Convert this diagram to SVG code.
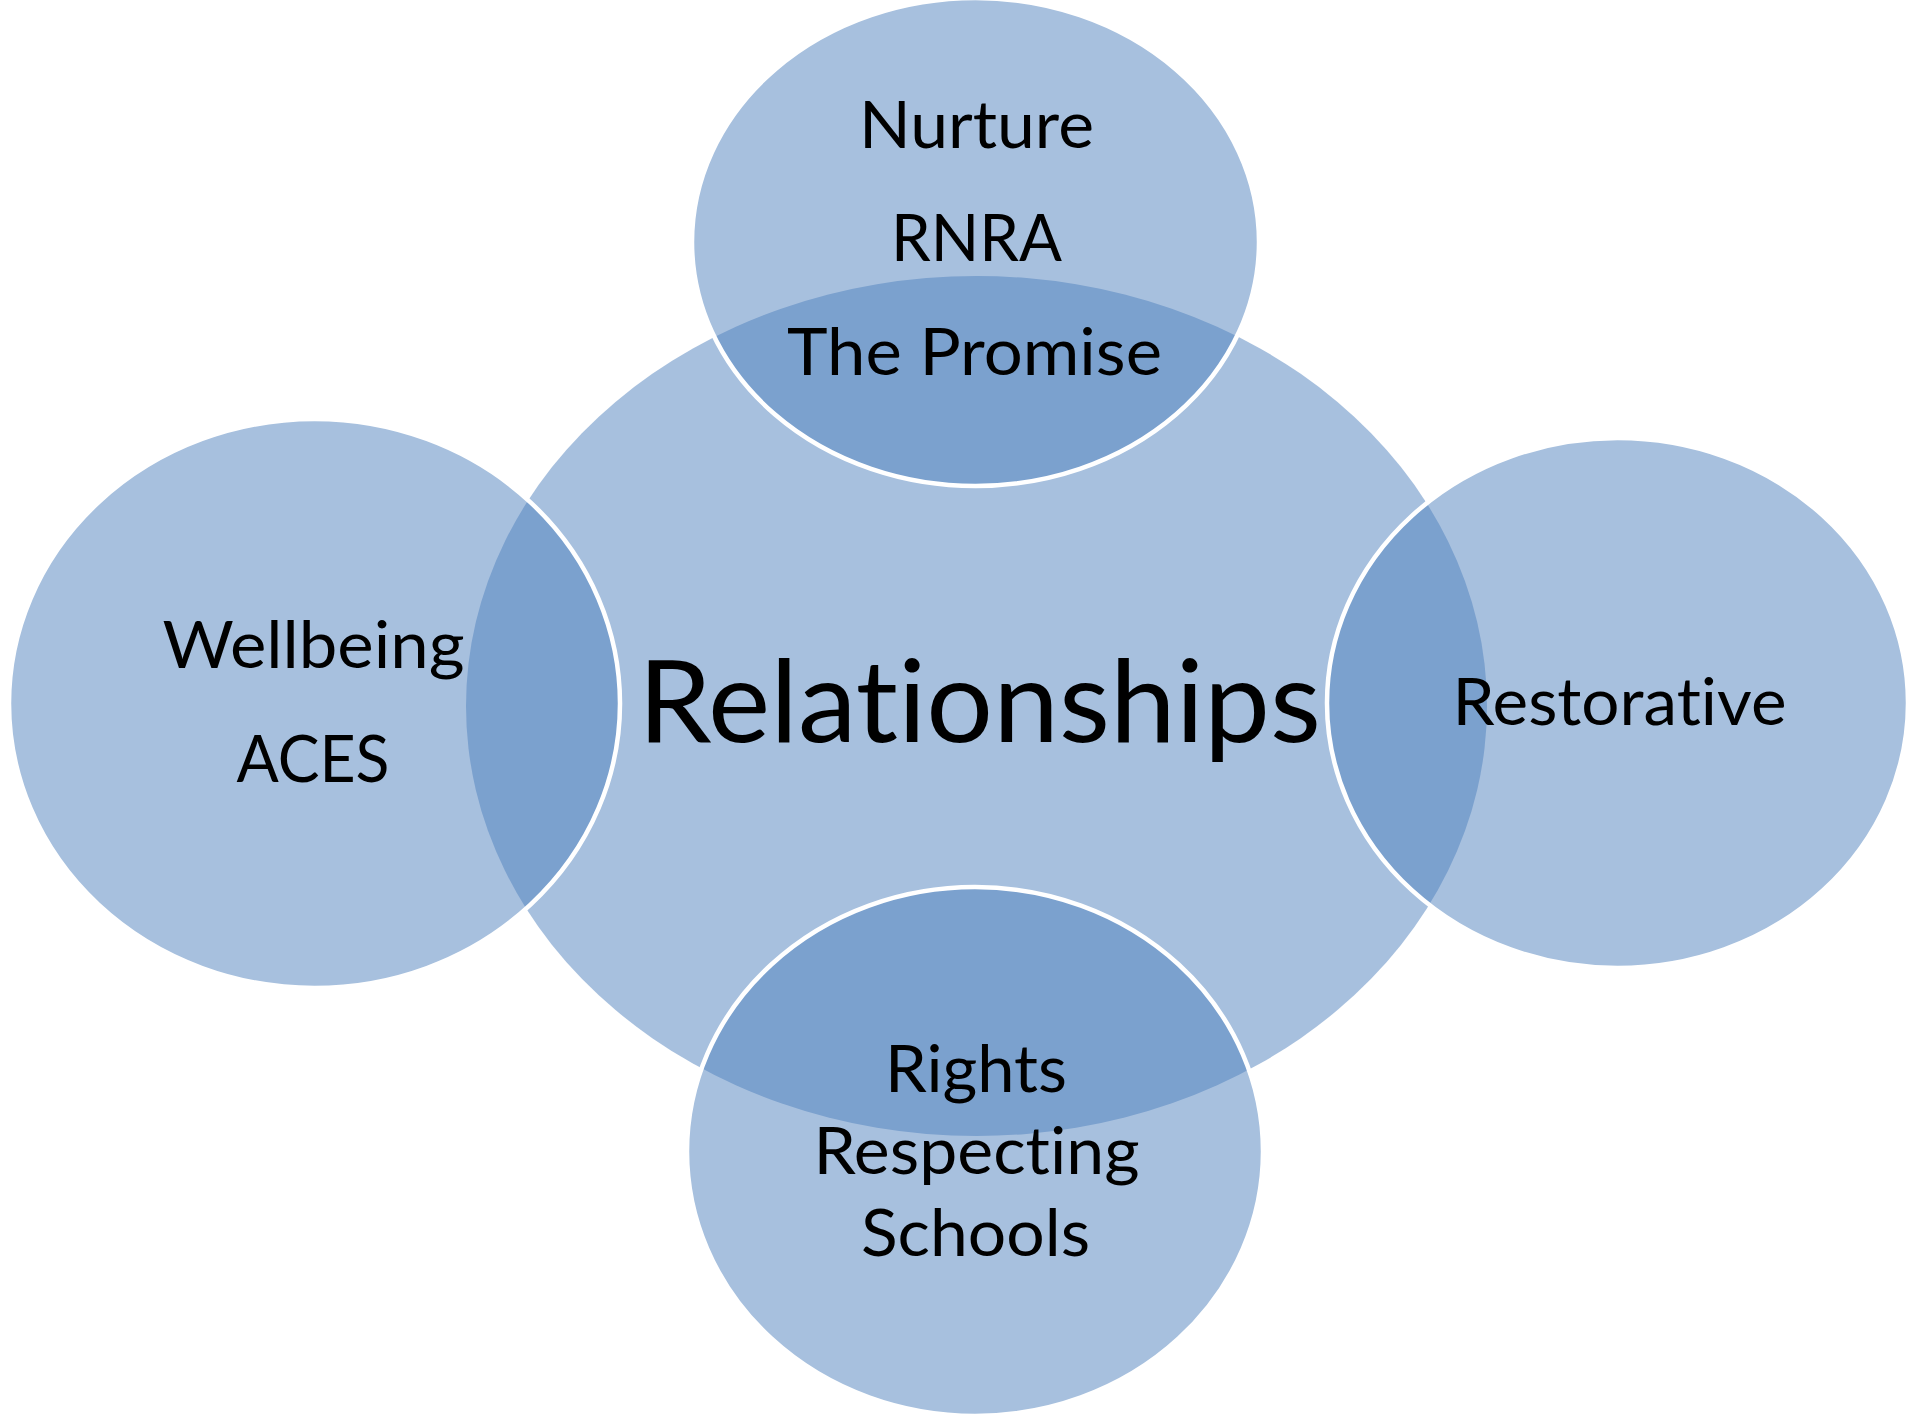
<svg xmlns="http://www.w3.org/2000/svg" width="1910" height="1417" viewBox="0 0 1910 1417">
  <style>
    .shape { fill: #4F81BD; fill-opacity: 0.5; }
    .sat { stroke: #FFFFFF; stroke-width: 4.5; }
    .lbl { font-family: Lato, "Open Sans", "Liberation Sans", sans-serif; font-size: 66px; fill: #000000; text-anchor: middle; font-variant-ligatures: none; font-feature-settings: "liga" 0, "clig" 0; }
    .big { font-size: 114px; }
  </style>
  <rect x="0" y="0" width="1910" height="1417" fill="#FFFFFF"/>
  <g id="node-center">
    <ellipse class="shape" cx="976.5" cy="706" rx="510.5" ry="430"/>
    <text class="lbl big" x="979.5" y="742" textLength="683" lengthAdjust="spacingAndGlyphs">Relationships</text>
  </g>
  <g id="node-top">
    <ellipse class="shape sat" cx="975.5" cy="242" rx="283.5" ry="244"/>
    <text class="lbl" x="976.5" y="148" textLength="235" lengthAdjust="spacingAndGlyphs">Nurture</text>
    <text class="lbl" x="976.5" y="261" textLength="171" lengthAdjust="spacingAndGlyphs">RNRA</text>
    <text class="lbl" x="974.5" y="375" textLength="375" lengthAdjust="spacingAndGlyphs">The Promise</text>
  </g>
  <g id="node-left">
    <ellipse class="shape sat" cx="314.5" cy="703.5" rx="305.5" ry="284.5"/>
    <text class="lbl" x="313.5" y="668" textLength="302" lengthAdjust="spacingAndGlyphs">Wellbeing</text>
    <text class="lbl" x="313" y="782" textLength="153" lengthAdjust="spacingAndGlyphs">ACES</text>
  </g>
  <g id="node-right">
    <ellipse class="shape sat" cx="1617.5" cy="703" rx="290.5" ry="265"/>
    <text class="lbl" x="1619.5" y="725" textLength="334" lengthAdjust="spacingAndGlyphs">Restorative</text>
  </g>
  <g id="node-bottom">
    <ellipse class="shape sat" cx="975" cy="1151.5" rx="288" ry="264.5"/>
    <text class="lbl" x="976" y="1092" textLength="182" lengthAdjust="spacingAndGlyphs">Rights</text>
    <text class="lbl" x="976.5" y="1174" textLength="326" lengthAdjust="spacingAndGlyphs">Respecting</text>
    <text class="lbl" x="975.5" y="1256" textLength="229" lengthAdjust="spacingAndGlyphs">Schools</text>
  </g>
  <g id="connectors"/>
</svg>
